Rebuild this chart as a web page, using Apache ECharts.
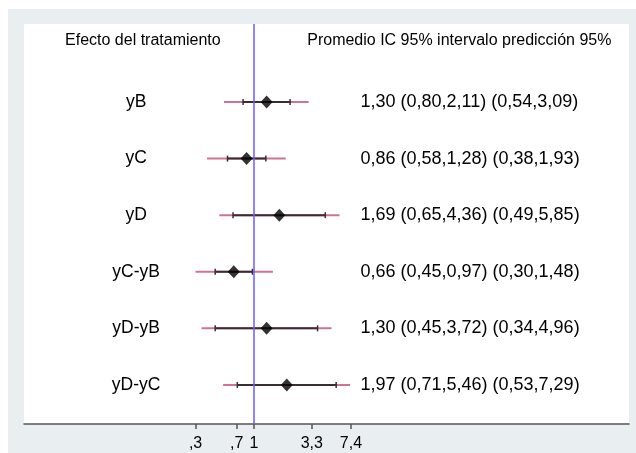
<!DOCTYPE html>
<html>
<head>
<meta charset="utf-8">
<script src="https://cdn.jsdelivr.net/npm/echarts@6/dist/echarts.min.js"></script>
<style>
html,body{margin:0;padding:0;background:#fff;}
#c{width:636px;height:453px;}
</style>
</head>
<body>
<div id="c"></div>
<script>
const rows = ['yB', 'yC', 'yD', 'yC-yB', 'yD-yB', 'yD-yC'];
const est = [1.30, 0.86, 1.69, 0.66, 1.30, 1.97];
const ciLow = [0.80, 0.58, 0.65, 0.45, 0.45, 0.71];
const ciHigh = [2.11, 1.28, 4.36, 0.97, 3.72, 5.46];
const piLow = [0.54, 0.38, 0.49, 0.30, 0.34, 0.53];
const piHigh = [3.09, 1.93, 5.85, 1.48, 4.96, 7.29];
const tickValues = [0.3, 0.7, 1, 3.3, 7.4];
const tickLabels = [',3', ',7', '1', '3,3', '7,4'];
const headers = ['Efecto del tratamiento', 'Promedio IC 95% intervalo predicción 95%'];

const L = v => Math.log10(v);
const fmt = v => v.toFixed(2).replace('.', ',');
const statText = rows.map((r, i) =>
  fmt(est[i]) + ' (' + fmt(ciLow[i]) + ',' + fmt(ciHigh[i]) + ') (' + fmt(piLow[i]) + ',' + fmt(piHigh[i]) + ')');

const FAMILY = '"Liberation Sans", Arial, Helvetica, sans-serif';
const HEAD_FONT = '16px ' + FAMILY;
const LABEL_FONT = '17.5px ' + FAMILY;
const ROW_FONT = '18px ' + FAMILY;
const HEADER_Y = -1.078;
const LEFT_X = -1.055;
const STAT_X = 0.955;
const HEAD2_X = 0.478;

const chart = echarts.init(document.getElementById('c'), null, {renderer: 'canvas'});

const intervalData = rows.map((r, i) => [L(piLow[i]), L(piHigh[i]), L(ciLow[i]), L(ciHigh[i]), i]);

chart.setOption({
  animation: false,
  backgroundColor: '#fff',
  graphic: [{
    type: 'rect', left: 8, top: 9, z: -10,
    shape: {width: 628, height: 444},
    style: {fill: '#e9eef1'}
  }],
  grid: {
    left: 24, right: 7, top: 24, bottom: 29,
    show: true, backgroundColor: '#fff', borderWidth: 0
  },
  xAxis: {
    type: 'value',
    min: -2.060, max: 3.361,
    splitLine: {show: false},
    axisLine: {show: true, onZero: false, lineStyle: {color: '#555', width: 1.5}},
    axisTick: {show: true, customValues: tickValues.map(L), length: 5, lineStyle: {color: '#555', width: 1.5}},
    axisLabel: {
      show: true, customValues: tickValues.map(L), margin: 12,
      color: '#000', fontSize: 16, fontFamily: FAMILY,
      formatter: function (v) {
        let best = 0, d = 1e9;
        tickValues.forEach((t, k) => { const dd = Math.abs(L(t) - v); if (dd < d) { d = dd; best = k; } });
        return tickLabels[best];
      }
    }
  },
  yAxis: {
    type: 'value', inverse: true, min: -1.378, max: 5.69, show: false
  },
  series: [
    {
      type: 'line', data: [], silent: true,
      markLine: {
        silent: true, symbol: 'none', label: {show: false},
        lineStyle: {color: '#6b5bff', width: 1.5, type: 'solid'},
        data: [{xAxis: L(1)}]
      }
    },
    {
      type: 'custom', z: 3,
      renderItem: function (params, api) {
        const y = api.value(4);
        const p0 = api.coord([api.value(0), y]);
        const p1 = api.coord([api.value(1), y]);
        const c0 = api.coord([api.value(2), y]);
        const c1 = api.coord([api.value(3), y]);
        return {
          type: 'group',
          children: [
            {type: 'line', shape: {x1: p0[0], y1: p0[1], x2: p1[0], y2: p1[1]},
             style: {stroke: '#d0738f', lineWidth: 2}},
            {type: 'line', shape: {x1: c0[0], y1: c0[1], x2: c1[0], y2: c1[1]},
             style: {stroke: '#3a2d31', lineWidth: 2}},
            {type: 'line', shape: {x1: c0[0], y1: c0[1] - 3, x2: c0[0], y2: c0[1] + 3},
             style: {stroke: '#3a2d31', lineWidth: 1.5}},
            {type: 'line', shape: {x1: c1[0], y1: c1[1] - 3, x2: c1[0], y2: c1[1] + 3},
             style: {stroke: '#3a2d31', lineWidth: 1.5}}
          ]
        };
      },
      data: intervalData
    },
    {
      type: 'scatter', z: 5,
      symbol: 'diamond', symbolSize: [12, 13],
      itemStyle: {color: '#000'},
      data: rows.map((r, i) => [L(est[i]), i])
    },
    {
      type: 'custom', z: 6,
      renderItem: function (params, api) {
        const i = params.dataIndex;
        const pL = api.coord([LEFT_X, i]);
        const pS = api.coord([STAT_X, i]);
        return {
          type: 'group',
          children: [
            {type: 'text', x: pL[0], y: pL[1], style: {text: rows[i], font: LABEL_FONT, fill: '#000', align: 'center', verticalAlign: 'middle'}},
            {type: 'text', x: pS[0], y: pS[1], style: {text: statText[i], font: ROW_FONT, fill: '#000', align: 'left', verticalAlign: 'middle'}}
          ]
        };
      },
      data: rows.map((r, i) => [i])
    },
    {
      type: 'custom', z: 6,
      renderItem: function (params, api) {
        const a = api.coord([-0.995, HEADER_Y]);
        const b = api.coord([HEAD2_X, HEADER_Y]);
        return {
          type: 'group',
          children: [
            {type: 'text', x: a[0], y: a[1], style: {text: headers[0], font: HEAD_FONT, fill: '#000', align: 'center', verticalAlign: 'middle'}},
            {type: 'text', x: b[0], y: b[1], style: {text: headers[1], font: HEAD_FONT, fill: '#000', align: 'left', verticalAlign: 'middle'}}
          ]
        };
      },
      data: [[0]]
    }
  ]
});
</script>
</body>
</html>
